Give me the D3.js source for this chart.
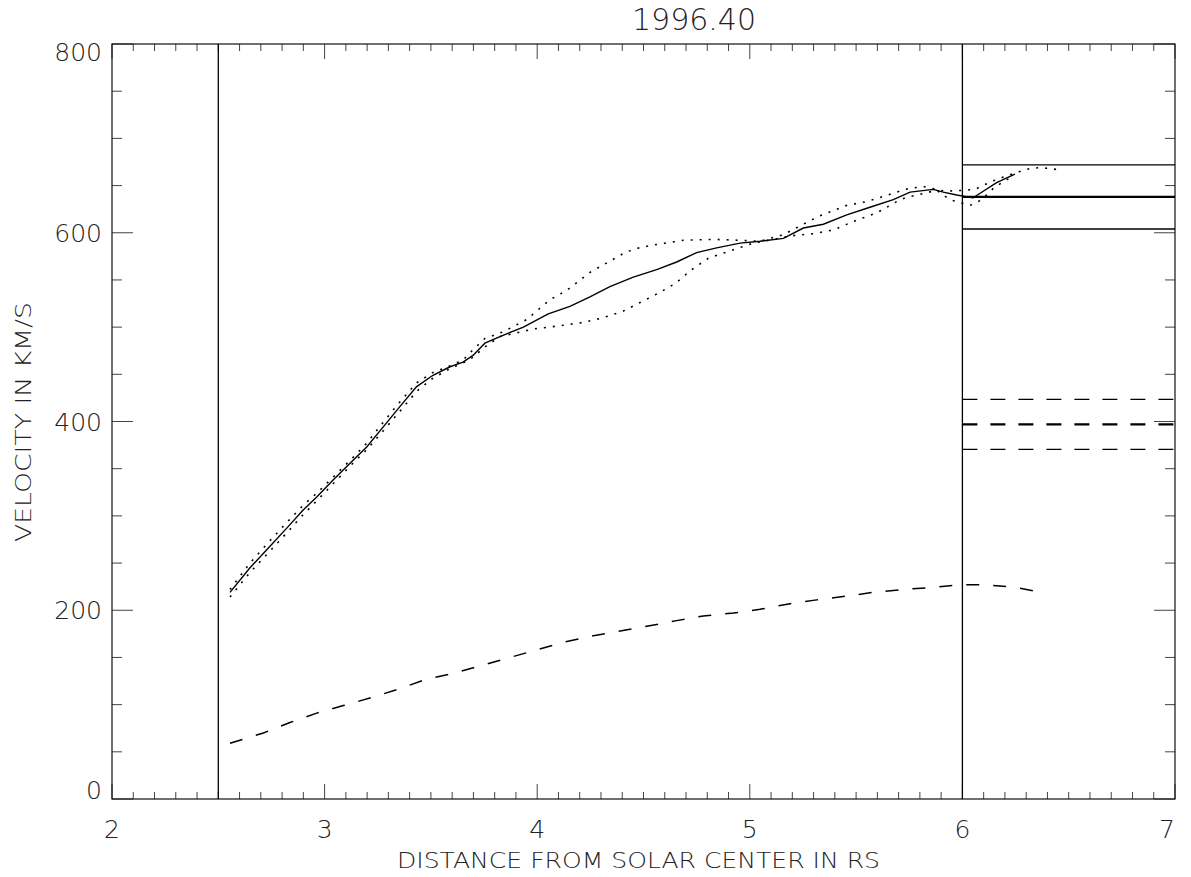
<!DOCTYPE html>
<html>
<head>
<meta charset="utf-8">
<script src="https://cdn.jsdelivr.net/npm/d3@7"></script>
<style>
  body { margin: 0; background: #fff; }
  text { font-family: "DejaVu Sans", sans-serif; font-weight: 200; fill: #222; }
</style>
</head>
<body>
<svg id="plot" width="1191" height="877"></svg>
<script>
// Data
const title = "1996.40";
const xTitle = "DISTANCE FROM SOLAR CENTER IN RS";
const yTitle = "VELOCITY IN KM/S";

const xTicks = [2, 3, 4, 5, 6, 7];
const yTicks = [0, 200, 400, 600, 800];

// mean speed profile (solid)
const meanR = [2.555, 2.649, 2.728, 2.822, 2.898, 2.963, 3.040, 3.134, 3.198, 3.275, 3.355, 3.433, 3.510, 3.590, 3.651, 3.698, 3.754, 3.825, 3.935, 4.052, 4.154, 4.248, 4.342, 4.452, 4.562, 4.656, 4.750, 4.844, 4.954, 5.048, 5.158, 5.252, 5.346, 5.456, 5.565, 5.675, 5.754, 5.863, 5.910, 5.973, 6.051, 6.098, 6.161, 6.247];
const meanV = [219, 245, 264, 287, 306, 320, 338, 359, 373, 394, 416, 437, 449, 458, 463, 470, 483, 490, 500, 514, 522, 532, 543, 553, 561, 569, 579, 584, 589, 591, 594, 605, 609, 619, 627, 635, 643, 646, 643, 640, 637, 644, 653, 662];

// upper bound (dotted)
const upperR = [2.555, 2.649, 2.728, 2.822, 2.898, 2.963, 3.040, 3.134, 3.198, 3.275, 3.355, 3.433, 3.510, 3.590, 3.651, 3.698, 3.754, 3.840, 3.950, 4.060, 4.139, 4.248, 4.335, 4.413, 4.460, 4.546, 4.688, 4.829, 4.954, 5.048, 5.158, 5.243, 5.330, 5.456, 5.549, 5.650, 5.730, 5.816, 5.918, 6.012, 6.059, 6.106, 6.145, 6.192, 6.271, 6.318, 6.365, 6.412, 6.444];
const upperV = [222, 250, 270, 293, 311, 324, 341, 362, 377, 399, 421, 441, 452, 459, 465, 476, 488, 495, 508, 529, 539, 558, 569, 579, 583, 587, 592, 593, 592, 591, 598, 608, 618, 629, 633, 640, 646, 649, 644, 645, 646, 651, 655, 659, 665, 668, 669, 668, 667];

// lower bound (dotted)
const lowerR = [2.555, 2.649, 2.728, 2.822, 2.898, 2.963, 3.040, 3.134, 3.198, 3.275, 3.355, 3.433, 3.510, 3.590, 3.651, 3.698, 3.754, 3.825, 3.981, 4.091, 4.217, 4.311, 4.405, 4.484, 4.570, 4.648, 4.727, 4.805, 4.923, 5.016, 5.111, 5.205, 5.299, 5.393, 5.487, 5.597, 5.691, 5.730, 5.824, 5.879, 5.941, 5.989, 6.036, 6.075, 6.114, 6.145, 6.192, 6.239];
const lowerV = [214, 240, 259, 282, 301, 316, 334, 356, 370, 390, 411, 432, 446, 456, 462, 468, 479, 490, 498, 501, 505, 510, 517, 526, 536, 546, 561, 573, 582, 589, 593, 597, 599, 603, 612, 621, 633, 637, 642, 645, 635, 632, 629, 633, 640, 647, 654, 660];

// second profile (dashed)
const dashR = [2.555, 2.712, 2.837, 2.963, 3.088, 3.229, 3.355, 3.480, 3.605, 3.731, 3.872, 3.998, 4.123, 4.264, 4.390, 4.515, 4.656, 4.781, 4.923, 5.048, 5.189, 5.315, 5.456, 5.581, 5.722, 5.848, 5.989, 6.114, 6.255, 6.349];
const dashV = [59, 70, 81, 91, 99, 108, 117, 127, 133, 141, 150, 158, 166, 173, 178, 183, 189, 194, 197, 201, 207, 211, 215, 219, 222, 224, 227, 227, 224, 220];

// vertical markers and averages with spread (drawn from 6 to 7)
const markerR = [2.5, 6];
const solidAvg = [638, 34];
const dashAvg = [397, 26.5];

// Settings
const svg = d3.select("#plot");
const margin = { top: 44, bottom: 78, left: 112, right: 16 };
const width = +svg.attr("width");
const height = +svg.attr("height");
const innerWidth = width - margin.left - margin.right;
const innerHeight = height - margin.top - margin.bottom;

const xScale = d3.scaleLinear().domain([2, 7]).range([0, innerWidth]);
const yScale = d3.scaleLinear().domain([0, 800]).range([innerHeight, 0]);

const g = svg.append("g").attr("transform", `translate(${margin.left},${margin.top})`);

// Axes: ticks on all four sides, IDL style
const xMinor = d3.range(2, 7.001, 0.1).map((d) => +d.toFixed(1));
const yMinor = d3.range(0, 801, 50);
const tickColor = "#444";

const axisB = g.append("g").attr("transform", `translate(0,${innerHeight})`);
const axisT = g.append("g");
axisB.selectAll("line").data(xMinor).enter().append("line")
  .attr("x1", (d) => xScale(d)).attr("x2", (d) => xScale(d))
  .attr("y1", 0).attr("y2", (d) => (xTicks.includes(d) ? -15 : -7))
  .attr("stroke", tickColor);
axisT.selectAll("line").data(xMinor).enter().append("line")
  .attr("x1", (d) => xScale(d)).attr("x2", (d) => xScale(d))
  .attr("y1", 0).attr("y2", (d) => (xTicks.includes(d) ? 15 : 7))
  .attr("stroke", tickColor);

const axisL = g.append("g");
const axisR = g.append("g").attr("transform", `translate(${innerWidth},0)`);
axisL.selectAll("line").data(yMinor).enter().append("line")
  .attr("y1", (d) => yScale(d)).attr("y2", (d) => yScale(d))
  .attr("x1", 0).attr("x2", (d) => (d % 200 === 0 ? 21 : 10))
  .attr("stroke", tickColor);
axisR.selectAll("line").data(yMinor).enter().append("line")
  .attr("y1", (d) => yScale(d)).attr("y2", (d) => yScale(d))
  .attr("x1", 0).attr("x2", (d) => (d % 200 === 0 ? -21 : -10))
  .attr("stroke", tickColor);

// tick labels
axisB.selectAll("text").data(xTicks).enter().append("text")
  .attr("x", (d) => Math.min(xScale(d), innerWidth - 8))
  .attr("y", 39)
  .attr("text-anchor", "middle")
  .attr("font-size", 25)
  .text((d) => d);
axisL.selectAll("text").data(yTicks).enter().append("text")
  .attr("x", -10)
  .attr("y", (d) => Math.max(8, Math.min(innerHeight - 9, yScale(d))))
  .attr("dy", "0.36em")
  .attr("text-anchor", "end")
  .attr("font-size", 25)
  .text((d) => d);

// frame
g.append("rect")
  .attr("width", innerWidth).attr("height", innerHeight)
  .attr("fill", "none").attr("stroke", "#111").attr("stroke-width", 1.2);

// titles
svg.append("text")
  .attr("x", 694).attr("y", 30)
  .attr("text-anchor", "middle").attr("font-size", 30)
  .text(title);
svg.append("text")
  .attr("x", 397).attr("y", 868)
  .attr("font-size", 21)
  .attr("textLength", 483).attr("lengthAdjust", "spacingAndGlyphs")
  .text(xTitle);
svg.append("text")
  .attr("transform", "translate(31,542) rotate(-90)")
  .attr("font-size", 21)
  .attr("textLength", 240).attr("lengthAdjust", "spacingAndGlyphs")
  .text(yTitle);

// vertical markers
g.selectAll(".marker").data(markerR).enter().append("line")
  .attr("class", "marker")
  .attr("x1", (d) => xScale(d)).attr("x2", (d) => xScale(d))
  .attr("y1", 0).attr("y2", innerHeight)
  .attr("stroke", "#000").attr("stroke-width", 1.3);

// curves
const line = d3.line().x((d) => xScale(d[0])).y((d) => yScale(d[1]));
const zip = (a, b) => a.map((d, i) => [d, b[i]]);

g.append("path").datum(zip(upperR, upperV))
  .attr("d", line).attr("fill", "none").attr("stroke", "#000")
  .attr("stroke-width", 1.6).attr("stroke-dasharray", "2,7");
g.append("path").datum(zip(lowerR, lowerV))
  .attr("d", line).attr("fill", "none").attr("stroke", "#000")
  .attr("stroke-width", 1.6).attr("stroke-dasharray", "2,7");
g.append("path").datum(zip(meanR, meanV))
  .attr("d", line).attr("fill", "none").attr("stroke", "#000")
  .attr("stroke-width", 1.4);
g.append("path").datum(zip(dashR, dashV))
  .attr("d", line).attr("fill", "none").attr("stroke", "#000")
  .attr("stroke-width", 1.5).attr("stroke-dasharray", "13,14");

// average levels with spread, from 6 to 7
const levels = (avg, dash) => [
  { v: avg[0] + avg[1], w: 1.3, dash },
  { v: avg[0], w: 2.2, dash },
  { v: avg[0] - avg[1], w: 1.3, dash },
];
g.selectAll(".level")
  .data(levels(solidAvg, null).concat(levels(dashAvg, "15,13")))
  .enter().append("line")
  .attr("class", "level")
  .attr("x1", xScale(6)).attr("x2", xScale(7))
  .attr("y1", (d) => yScale(d.v)).attr("y2", (d) => yScale(d.v))
  .attr("stroke", "#000")
  .attr("stroke-width", (d) => d.w)
  .attr("stroke-dasharray", (d) => d.dash);
</script>
</body>
</html>
